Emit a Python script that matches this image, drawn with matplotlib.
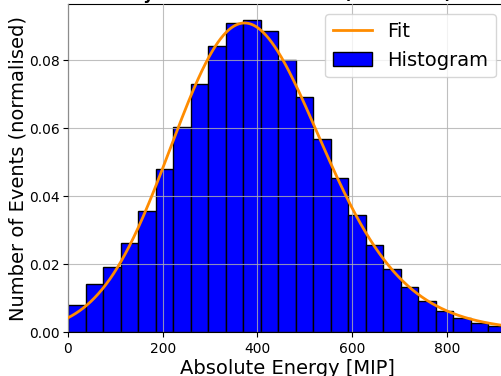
import math

import matplotlib
matplotlib.use('Agg')
import matplotlib.pyplot as plt
import numpy as np

# normalised histogram contents, 25 bins of 37 MIP
bin_width = 37
bin_edges = np.arange(26) * bin_width
counts = [0.0080, 0.0141, 0.0190, 0.0262, 0.0357, 0.0481, 0.0604, 0.0730, 0.0841,
          0.0908, 0.0918, 0.0885, 0.0800, 0.0691, 0.0568, 0.0452, 0.0343, 0.0255,
          0.0186, 0.0131, 0.0090, 0.0063, 0.0042, 0.0027, 0.0019]

# exponentially modified gaussian fit parameters
fit_mu = 294.5
fit_sigma = 139.1
fit_lambda = 0.00995
fit_norm = 37.14

erfc = np.vectorize(math.erfc)


def emg(x, mu, sig, lam, norm):
    return norm * lam / 2 * np.exp(lam / 2 * (2 * mu + lam * sig**2 - 2 * x)) \
        * erfc((mu + lam * sig**2 - x) / (np.sqrt(2) * sig))


fig = plt.figure(figsize=(5.02, 3.76), dpi=100)
ax = fig.add_axes([68 / 502, 44 / 376, 438 / 502, 327.6 / 376])

x_fit = np.linspace(0, 1000, 500)
ax.plot(x_fit, emg(x_fit, fit_mu, fit_sigma, fit_lambda, fit_norm), color='darkorange',
        linewidth=2, label='Fit', zorder=3)

centres = bin_edges[:-1] + bin_width / 2
ax.hist(centres, bins=bin_edges, weights=counts, color='blue', edgecolor='black',
        linewidth=1, label='Histogram', zorder=1)

ax.grid(True, color='#b0b0b0', alpha=0.8, zorder=2)
ax.set_axisbelow(False)
ax.set_xlim(0, 925)
ax.set_ylim(0, max(counts) * 1.05)
ax.set_xticks([0, 200, 400, 600, 800])
ax.set_yticks([0, 0.02, 0.04, 0.06, 0.08])
ax.tick_params(axis='y', pad=2.5)
ax.set_xlabel('Absolute Energy [MIP]', fontsize=14, labelpad=2)
ax.set_ylabel('Number of Events (normalised)', fontsize=14, labelpad=1)
ax.set_title('Layer Sum Distribution (All Events)', fontsize=12, fontweight='bold', pad=4)

handles, labels = ax.get_legend_handles_labels()
order = [labels.index('Fit'), labels.index('Histogram')]
ax.legend([handles[i] for i in order], [labels[i] for i in order],
          loc='upper right', fontsize=14)

fig.savefig('out.png', dpi=100)
